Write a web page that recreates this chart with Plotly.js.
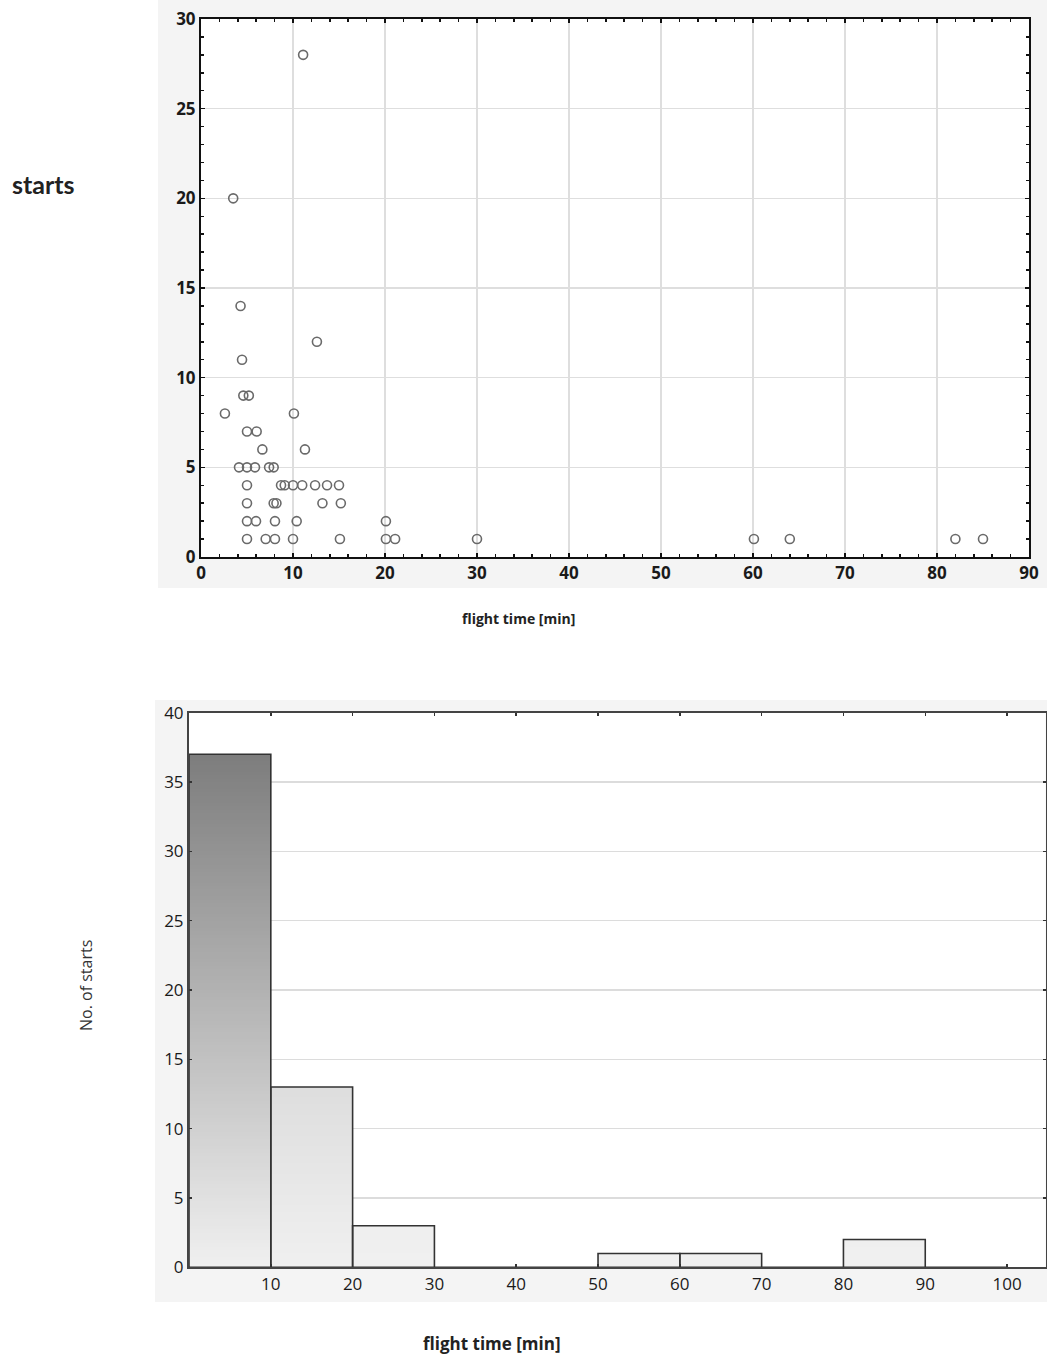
<!DOCTYPE html>
<html>
<head>
<meta charset="utf-8">
<script src="https://cdn.plot.ly/plotly-3.0.1.min.js"></script>
<style>html,body{margin:0;padding:0;background:#fff;}#chart{width:1047px;height:1360px;}</style>
</head>
<body>
<div id="chart"></div>
<script>
// ---- Scatter data: flight time [min] vs starts ----
const flightTime = [11.1, 3.5, 4.3, 12.6, 4.46, 4.6, 5.2, 2.6, 10.1, 5.0, 6.05, 6.67, 11.3,
  4.13, 5.0, 5.87, 7.4, 7.9,
  5.0, 8.7, 9.1, 10.0, 11.0, 12.4, 13.7, 15.0,
  5.0, 7.9, 8.2, 13.2, 15.2,
  5.0, 5.98, 8.04, 10.4, 20.1,
  5.0, 7.03, 8.04, 10.0, 15.1, 20.1, 21.1, 30.0, 60.1, 64.0, 82.0, 85.0];
const starts = [28, 20, 14, 12, 11, 9, 9, 8, 8, 7, 7, 6, 6,
  5, 5, 5, 5, 5,
  4, 4, 4, 4, 4, 4, 4, 4,
  3, 3, 3, 3, 3,
  2, 2, 2, 2, 2,
  1, 1, 1, 1, 1, 1, 1, 1, 1, 1, 1, 1];

// ---- Histogram data ----
const binStart = [0, 10, 20, 30, 40, 50, 60, 70, 80, 90];
const binCount = [37, 13, 3, 0, 0, 1, 1, 0, 2, 0];
const histTicks = [10, 20, 30, 40, 50, 60, 70, 80, 90, 100];

const W = 1047, H = 1360;
const px = v => v / W, py = v => 1 - v / H;

// gradient segments built from counts (each bar shades from light bottom to darker top)
const step = 0.25, maxC = 37;
const segX = [], segY = [], segB = [], segC = [];
binCount.forEach((c, i) => {
  const D = 115 * Math.pow(c / maxC, 1.75);
  for (let b = 0; b < c - 1e-9; b += step) {
    const h = Math.min(step, c - b);
    const f = (b + h / 2) / c;
    const g = Math.round(240 - D * f);
    segX.push(binStart[i] + 5); segY.push(h); segB.push(b);
    segC.push(`rgb(${g},${g},${g})`);
  }
});

const tickFontSc = {family: 'Open Sans', size: 17, color: '#1a1a1a', weight: 'bold'};
const tickFontH = {family: 'Open Sans', size: 17, color: '#1a1a1a'};

const traces = [
  {
    type: 'scatter', mode: 'markers', x: flightTime, y: starts,
    xaxis: 'x', yaxis: 'y',
    marker: {symbol: 'circle-open', size: 9, color: '#6a6a6a', line: {width: 1.6, color: '#6a6a6a'}},
    hoverinfo: 'x+y'
  },
  {
    type: 'bar', x: segX, y: segY, base: segB, width: 10,
    xaxis: 'x2', yaxis: 'y2',
    marker: {color: segC, line: {width: 0}}, hoverinfo: 'skip'
  },
  {
    type: 'bar', x: binStart.map(s => s + 5), y: binCount, width: 10,
    xaxis: 'x2', yaxis: 'y2',
    marker: {color: 'rgba(0,0,0,0)', line: {width: 1.6, color: '#333'}}
  }
];

const layout = {
  width: W, height: H,
  margin: {l: 0, r: 0, t: 0, b: 0},
  paper_bgcolor: '#ffffff', plot_bgcolor: 'rgba(0,0,0,0)',
  showlegend: false, barmode: 'overlay', bargap: 0,
  xaxis: {
    domain: [px(201), px(1029)], anchor: 'y', range: [0, 90],
    tickvals: [0, 10, 20, 30, 40, 50, 60, 70, 80, 90],
    ticks: 'inside', ticklen: 4, tickwidth: 1.5, tickcolor: '#111',
    minor: {dtick: 2, ticks: 'inside', ticklen: 3, tickcolor: '#111', showgrid: false},
    showline: true, linecolor: '#111', linewidth: 2, mirror: 'ticks',
    showgrid: true, gridcolor: '#dedede', gridwidth: 1.3, zeroline: false,
    tickfont: tickFontSc
  },
  yaxis: {
    domain: [py(557), py(19)], anchor: 'x', range: [0, 30],
    tickvals: [0, 5, 10, 15, 20, 25, 30],
    ticks: 'inside', ticklen: 4, tickwidth: 1.5, tickcolor: '#111',
    minor: {dtick: 1, ticks: 'inside', ticklen: 3, tickcolor: '#111', showgrid: false},
    showline: true, linecolor: '#111', linewidth: 2, mirror: 'ticks',
    showgrid: true, gridcolor: '#dedede', gridwidth: 1.3, zeroline: false,
    tickfont: tickFontSc
  },
  xaxis2: {
    domain: [px(189), px(1045.5)], anchor: 'y2', range: [0, 104.7],
    tickvals: histTicks,
    ticks: 'inside', ticklen: 3, tickwidth: 1.5, tickcolor: '#333',
    showline: true, linecolor: '#444', linewidth: 2, mirror: 'ticks',
    showgrid: false, zeroline: false, tickfont: tickFontH
  },
  yaxis2: {
    domain: [py(1267.3), py(712.7)], anchor: 'x2', range: [0, 40],
    tickvals: [0, 5, 10, 15, 20, 25, 30, 35, 40],
    ticks: 'inside', ticklen: 3, tickwidth: 1.5, tickcolor: '#333',
    showline: true, linecolor: '#444', linewidth: 2, mirror: 'ticks',
    showgrid: true, gridcolor: '#dcdcdc', gridwidth: 1.2, zeroline: false,
    tickfont: tickFontH
  },
  shapes: [
    {type: 'rect', xref: 'paper', yref: 'paper', x0: px(158), x1: 1, y0: py(588), y1: 1,
      fillcolor: '#f4f4f4', line: {width: 0}, layer: 'below'},
    {type: 'rect', xref: 'paper', yref: 'paper', x0: px(201), x1: px(1029), y0: py(557), y1: py(19),
      fillcolor: '#ffffff', line: {width: 0}, layer: 'below'},
    {type: 'rect', xref: 'paper', yref: 'paper', x0: px(155), x1: 1, y0: py(1302), y1: py(700),
      fillcolor: '#f4f4f4', line: {width: 0}, layer: 'below'},
    {type: 'rect', xref: 'paper', yref: 'paper', x0: px(189), x1: px(1045.5), y0: py(1267.3), y1: py(712.7),
      fillcolor: '#ffffff', line: {width: 0}, layer: 'below'}
  ],
  annotations: [
    {text: 'starts', xref: 'paper', yref: 'paper', x: px(10), y: py(184), xanchor: 'left', yanchor: 'middle',
      showarrow: false, font: {family: 'Lato', size: 25, color: '#222', weight: 'bold'}},
    {text: 'flight time [min]', xref: 'paper', yref: 'paper', x: px(518), y: py(619), xanchor: 'center', yanchor: 'middle',
      showarrow: false, font: {family: 'Open Sans', size: 14, color: '#222', weight: 'bold'}},
    {text: 'flight time [min]', xref: 'paper', yref: 'paper', x: px(492), y: py(1343), xanchor: 'center', yanchor: 'middle',
      showarrow: false, font: {family: 'Open Sans', size: 17, color: '#222', weight: 'bold'}},
    {text: 'No. of starts', xref: 'paper', yref: 'paper', x: px(86), y: py(985), xanchor: 'center', yanchor: 'middle',
      textangle: -90, showarrow: false, font: {family: 'Open Sans', size: 16, color: '#333'}}
  ]
};

Plotly.newPlot('chart', traces, layout, {displayModeBar: false, staticPlot: true});
</script>
</body>
</html>
